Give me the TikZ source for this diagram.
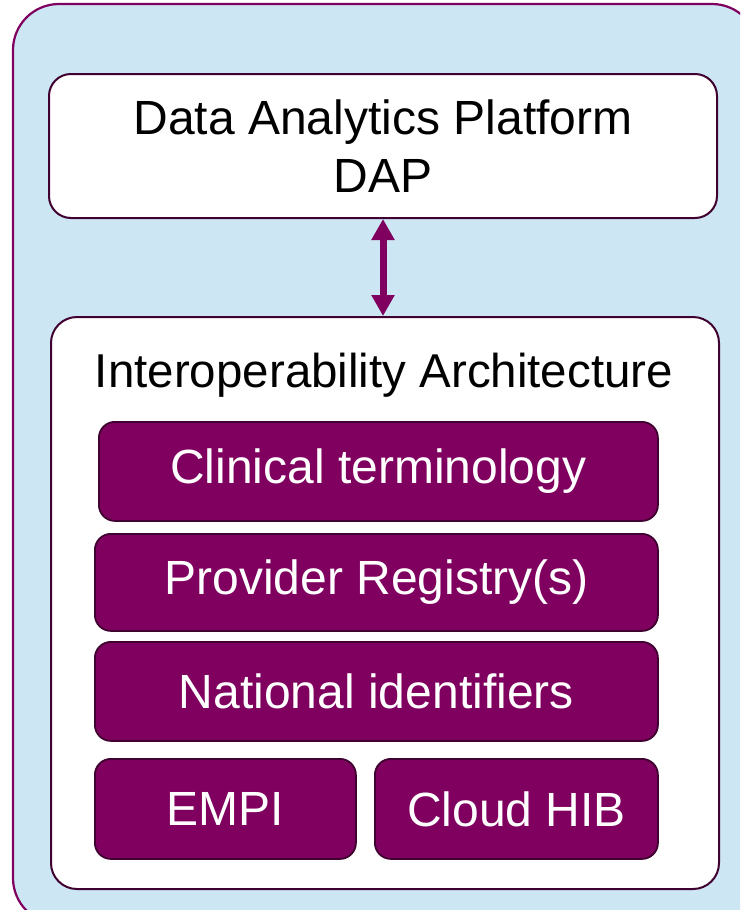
\documentclass[tikz,border=0pt]{standalone}
\usepackage{fontspec}
\setmainfont{Liberation Sans}
\usetikzlibrary{arrows.meta}
\definecolor{plum}{RGB}{128,0,96}
\definecolor{darkplum}{RGB}{64,0,48}
\definecolor{skyfill}{RGB}{204,230,244}
\tikzset{
  whitebox/.style={draw=darkplum, line width=2pt, fill=white, rounded corners=22pt, inner sep=0pt, anchor=north west},
  purplebox/.style={draw=darkplum, line width=1.8pt, fill=plum, rounded corners=16pt, inner sep=0pt, anchor=north west},
  boxtext/.style={text=white, font=\fontsize{48}{56}\selectfont},
  bigtext/.style={font=\fontsize{48}{58}\selectfont, text=black, align=center}
}
\begin{document}
\begin{tikzpicture}[x=1pt,y=-1pt]
\useasboundingbox (0,0) rectangle (740,910);
\clip (0,0) rectangle (740,910);
\draw[draw=plum, line width=2.2pt, fill=skyfill, rounded corners=46pt] (13,4) rectangle (758,924);
\node[whitebox, minimum width=668pt, minimum height=144pt] (dap) at (48,73) {};
\node[bigtext] (daptext) at (dap.center) {Data Analytics Platform\\DAP};
\node[whitebox, minimum width=668pt, minimum height=572pt, rounded corners=26pt] (interop) at (50,316) {};
\node[bigtext, font=\fontsize{47.5}{56}\selectfont] (ititle) at (384,375) {Interoperability Architecture};
\node[purplebox, minimum width=559pt, minimum height=99pt] (clin) at (98,421) {};
\node[boxtext] (clintext) at (clin.center) {Clinical terminology};
\node[purplebox, minimum width=563pt, minimum height=97pt] (prov) at (94,533) {};
\node[boxtext] (provtext) at (prov.center) {Provider Registry(s)};
\node[purplebox, minimum width=563pt, minimum height=99pt] (nat) at (94,641) {};
\node[boxtext] (nattext) at (nat.center) {National identifiers};
\node[purplebox, minimum width=261pt, minimum height=100pt] (empi) at (94,758) {};
\node[boxtext] (empitext) at (empi.center) {EMPI};
\node[purplebox, minimum width=283pt, minimum height=100pt] (cloud) at (374,758) {};
\node[boxtext] (cloudtext) at (cloud.center) {Cloud HIB};
\draw[plum, line width=7pt, {Triangle[width=22pt,length=21pt]}-{Triangle[width=22pt,length=21pt]}] (dap.south) -- (dap.south |- interop.north);
\end{tikzpicture}
\end{document}
